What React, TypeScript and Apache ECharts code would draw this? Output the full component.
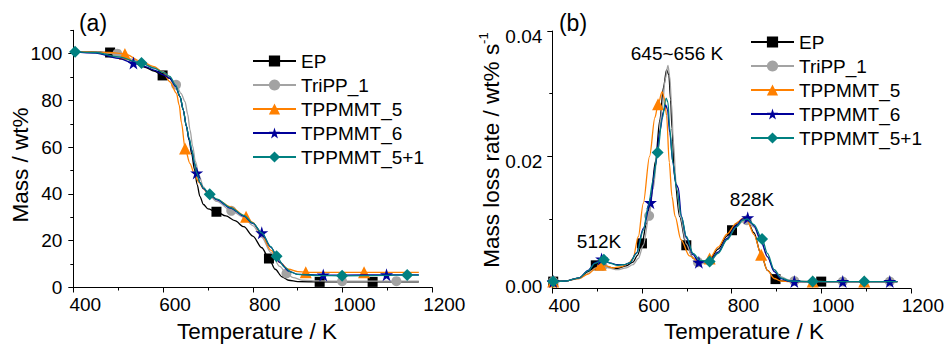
import React, { useEffect, useRef } from "react";
import * as echarts from "echarts";

// ---------- data ----------
const seriesNames = ["EP", "TriPP_1", "TPPMMT_5", "TPPMMT_6", "TPPMMT_5+1"];
const seriesColors = ["#000000", "#a3a3a3", "#ff8000", "#000099", "#008080"];

// (a) TGA: [Temperature K, Mass wt%]
const tgaEP: [number, number][] = [
  [400, 100.8], [440, 100.8], [482, 100.5], [520, 97.6], [560, 94.2], [580, 92.6], [599, 90.7],
  [615, 89.5], [628, 86], [638, 81.5], [645, 76], [652, 69], [658, 63], [664, 57], [670, 50.5],
  [676, 44], [682, 39], [690, 35.5], [700, 33.6], [719, 32.4], [740, 30.6], [760, 28.6],
  [780, 26], [800, 22], [820, 17], [836, 12.4], [850, 7.8], [865, 4.6], [880, 3.1], [900, 2.5],
  [949, 2.4], [1067, 2.4], [1170, 2.4],
];
const tgaEPMarks = [482, 599, 719, 836, 949, 1067];

const tgaTriPP: [number, number][] = [
  [400, 100.8], [450, 100.6], [498, 100], [530, 97.7], [560, 95.4], [580, 94], [600, 92.3],
  [615, 90], [629, 86.7], [640, 83], [649, 79.5], [655, 74], [660, 67.5], [666, 60.5], [672, 54],
  [680, 48], [690, 43], [700, 40], [720, 36.8], [752, 32.8], [780, 30], [800, 26.5], [820, 21.5],
  [840, 15], [860, 9], [875, 6], [890, 4.2], [910, 3.1], [950, 2.8], [999, 2.7], [1120, 2.7],
  [1170, 2.7],
];
const tgaTriPPMarks = [498, 629, 752, 875, 999, 1120];

const tgaT5: [number, number][] = [
  [400, 100.8], [450, 100.7], [480, 100.5], [515, 99.9], [550, 96.8], [580, 94.5], [600, 92],
  [615, 88], [630, 83], [636, 78], [641, 70.5], [649, 59.5], [660, 53], [670, 48.5], [680, 45],
  [690, 42.2], [700, 40.3], [720, 37.7], [750, 34.5], [785, 30.3], [800, 27.8], [820, 22.5],
  [840, 16], [860, 10.7], [880, 7.8], [900, 6.8], [918, 6.5], [1048, 6.5], [1170, 6.5],
];
const tgaT5Marks = [515, 649, 785, 918, 1048];

const tgaT6: [number, number][] = [
  [400, 100.8], [450, 100.3], [500, 98], [534, 96], [560, 94.5], [580, 93], [600, 91],
  [615, 89.5], [628, 86], [638, 81.5], [645, 76], [652, 69], [658, 63.5], [664, 58.5], [670, 53],
  [675, 49], [682, 45], [690, 42.3], [704, 39.6], [720, 37.5], [750, 34], [780, 30.5],
  [800, 27.4], [820, 23.4], [840, 17.3], [860, 10.8], [880, 7], [900, 5.6], [957, 5.3],
  [1000, 5.3], [1098, 5.4], [1170, 5.4],
];
const tgaT6Marks = [534, 675, 820, 957, 1098];

const tgaT51: [number, number][] = [
  [404, 100.8], [450, 100.5], [500, 98.6], [552, 96], [580, 93.8], [600, 92], [615, 90.3],
  [628, 86.5], [638, 81.7], [645, 76], [652, 69], [658, 64], [664, 59], [670, 53.5], [675, 49],
  [682, 45], [690, 42.5], [704, 39.9], [720, 37.8], [750, 34.2], [780, 30.8], [800, 27.6],
  [820, 23.4], [840, 17.5], [853, 13.4], [870, 8.8], [885, 6.6], [900, 5.6], [950, 5.1],
  [999, 5.0], [1100, 5.2], [1144, 5.3], [1170, 5.3],
];
const tgaT51Marks = [404, 552, 704, 853, 999, 1144];

// (b) DTG: [Temperature K, mass loss rate wt% s^-1]
const dtgEP: [number, number][] = [
  [402, 0], [430, 0.0001], [460, 0.0006], [480, 0.0016], [497, 0.0026], [510, 0.0028],
  [525, 0.0023], [545, 0.0021], [565, 0.0025], [580, 0.0031], [590, 0.0042], [600, 0.0061],
  [610, 0.0092], [620, 0.0135], [630, 0.0192], [640, 0.0258], [648, 0.031], [655, 0.0338],
  [660, 0.033], [664, 0.029], [667, 0.0245], [673, 0.0165], [684, 0.0104], [699, 0.0058],
  [715, 0.0037], [730, 0.0031], [750, 0.0034], [770, 0.0052], [790, 0.0073], [801, 0.0082],
  [815, 0.0095], [825, 0.01], [835, 0.0097], [850, 0.0078], [865, 0.0045], [880, 0.0018],
  [898, 0.0004], [915, 0.0001], [940, 0], [1000, 0], [1100, 0], [1170, 0],
];
const dtgEPMarks = [402, 497, 600, 699, 801, 898, 1000];

const dtgTriPP: [number, number][] = [
  [402, 0], [430, 0.0001], [460, 0.0005], [480, 0.0013], [497, 0.0022], [512, 0.0025],
  [525, 0.0022], [545, 0.0019], [565, 0.0022], [580, 0.0027], [592, 0.0037], [603, 0.0058],
  [616, 0.0105], [625, 0.0148], [635, 0.0208], [645, 0.0275], [652, 0.0323], [658, 0.0345],
  [662, 0.0328], [666, 0.0285], [670, 0.0225], [676, 0.016], [686, 0.0103], [699, 0.006],
  [712, 0.004], [725, 0.0031], [740, 0.0029], [755, 0.0033], [770, 0.0047], [790, 0.0068],
  [810, 0.0087], [825, 0.0096], [834, 0.0098], [850, 0.0087], [865, 0.0066], [880, 0.0039],
  [895, 0.0019], [910, 0.0008], [925, 0.0003], [940, 0.0001], [1048, 0], [1153, 0], [1170, 0],
];
const dtgTriPPMarks = [402, 512, 616, 725, 834, 940, 1048, 1153];

const dtgT5: [number, number][] = [
  [402, 0], [430, 0.0001], [460, 0.0005], [480, 0.0012], [495, 0.002], [508, 0.0027],
  [520, 0.0025], [535, 0.0022], [555, 0.0024], [570, 0.0029], [580, 0.0037], [592, 0.0072],
  [603, 0.0125], [617, 0.02], [629, 0.0262], [636, 0.0283], [645, 0.0303], [650, 0.0293],
  [655, 0.0265], [661, 0.019], [667, 0.0136], [674, 0.0104], [687, 0.0067], [706, 0.0041],
  [725, 0.0033], [740, 0.0033], [751, 0.0037], [770, 0.0055], [790, 0.0076], [810, 0.0093],
  [825, 0.0101], [835, 0.0097], [850, 0.0075], [866, 0.0043], [880, 0.0018], [895, 0.0005],
  [910, 0.0001], [930, 0], [981, 0], [1096, 0], [1170, 0],
];
const dtgT5Marks = [402, 508, 636, 751, 866, 981, 1096];

const dtgT6: [number, number][] = [
  [402, 0], [430, 0.0001], [460, 0.0006], [480, 0.0018], [495, 0.003], [510, 0.0036],
  [528, 0.003], [545, 0.0027], [560, 0.0027], [573, 0.003], [588, 0.0046], [603, 0.0085],
  [619, 0.0126], [630, 0.0185], [640, 0.024], [648, 0.0272], [653, 0.0282], [657, 0.0275],
  [662, 0.0238], [669, 0.019], [676, 0.0155], [681, 0.015], [688, 0.0104], [699, 0.007],
  [714, 0.0043], [727, 0.0031], [750, 0.0032], [770, 0.0047], [790, 0.0069], [810, 0.0089],
  [825, 0.01], [836, 0.0102], [850, 0.0089], [865, 0.0066], [880, 0.004], [895, 0.0016],
  [910, 0.0005], [925, 0.0001], [940, 0], [1048, 0], [1153, 0], [1170, 0],
];
const dtgT6Marks = [402, 510, 619, 727, 836, 940, 1048, 1153];

const dtgT51: [number, number][] = [
  [402, 0], [430, 0.0001], [460, 0.0006], [480, 0.0017], [495, 0.0029], [515, 0.0035],
  [530, 0.0029], [545, 0.0026], [560, 0.0027], [573, 0.003], [588, 0.0045], [603, 0.0082],
  [614, 0.012], [625, 0.0162], [635, 0.0206], [645, 0.026], [654, 0.0293], [658, 0.0286],
  [662, 0.0245], [669, 0.019], [678, 0.0146], [688, 0.0104], [699, 0.0072], [714, 0.0045],
  [730, 0.0034], [751, 0.0032], [770, 0.0045], [790, 0.0067], [810, 0.0087], [825, 0.0098],
  [835, 0.01], [850, 0.0091], [868, 0.0068], [880, 0.0045], [895, 0.0019], [910, 0.0006],
  [930, 0.0001], [981, 0], [1096, 0], [1170, 0],
];
const dtgT51Marks = [402, 515, 635, 751, 868, 981, 1096];

const xTicks = [400, 600, 800, 1000, 1200];
const massTickLabels = [0, 20, 40, 60, 80, 100];
const massMinorTicks = [10, 30, 50, 70, 90, 110];
const rateTickLabels = [0, 0.02, 0.04];
const rateMinorTicks = [0.01, 0.03];

// ---------- styles ----------
const FONT = "Liberation Sans, Arial, sans-serif";
const STAR =
  "path://M50,0 L61.2,34.5 L97.6,34.5 L68.2,55.9 L79.4,90.5 L50,69.1 L20.6,90.5 L31.8,55.9 L2.4,34.5 L38.8,34.5 Z";
const symbols = ["rect", "circle", "triangle", STAR, "diamond"];
const symbolSizes = [10, 10, 12, 13, 12];

function makeSeries(
  idx: number,
  data: [number, number][],
  marks: number[],
  axis: number
) {
  const color = seriesColors[idx];
  return {
    type: "line",
    name: seriesNames[idx],
    xAxisIndex: axis,
    yAxisIndex: axis * 2,
    data,
    smooth: 0.3,
    smoothMonotone: "x",
    symbol: symbols[idx],
    showSymbol: true,
    showAllSymbol: true,
    symbolSize: (v: number[]) => (marks.includes(v[0]) ? symbolSizes[idx] : 0),
    lineStyle: { color, width: 1.3 },
    itemStyle: { color, borderWidth: 0 },
    emphasis: { disabled: true },
    silent: true,
    z: 2 + idx,
  };
}

const axisLineStyle = { color: "#000", width: 1 };
const labelStyle = { fontSize: 19, color: "#000", fontFamily: FONT };

function xAxisFor(grid: number) {
  return {
    type: "value",
    gridIndex: grid,
    min: 400,
    max: 1200,
    interval: 200,
    axisLine: { show: true, onZero: false, lineStyle: axisLineStyle },
    axisTick: { show: true, inside: false, length: 5, lineStyle: axisLineStyle, customValues: xTicks },
    minorTick: { show: true, splitNumber: 2, length: 3, lineStyle: axisLineStyle },
    splitLine: { show: false },
    minorSplitLine: { show: false },
    axisLabel: {
      ...labelStyle,
      margin: 7,
      customValues: xTicks,
      formatter: (v: number) => `{p| }{v|${String(v)}}`,
      rich: {
        p: { width: 24, fontSize: 19, fontFamily: FONT },
        v: { fontSize: 19, fontFamily: FONT, color: "#000" },
      },
    },
  };
}

export default function App() {
  const ref = useRef<HTMLDivElement>(null);
  useEffect(() => {
    if (!ref.current) return;
    const chart = echarts.init(ref.current, undefined, { renderer: "svg" });
    const legendBase = {
      orient: "vertical",
      padding: 0,
      itemWidth: 43,
      itemHeight: 14,
      itemGap: 4,
      selectedMode: false,
      data: seriesNames,
      textStyle: { fontSize: 19, color: "#000", fontFamily: FONT, lineHeight: 20 },
    };
    chart.setOption({
      animation: false,
      backgroundColor: "#ffffff",
      grid: [
        { left: 73.3, top: 30.3, width: 359, height: 257.2 },
        { left: 552.3, top: 31, width: 359, height: 257.5 },
      ],
      xAxis: [xAxisFor(0), xAxisFor(1)],
      yAxis: [
        {
          type: "value",
          gridIndex: 0,
          position: "left",
          min: 0,
          max: 110,
          axisLine: { show: true, onZero: false, lineStyle: axisLineStyle },
          axisTick: { show: true, length: 5, lineStyle: axisLineStyle, customValues: massTickLabels },
          axisLabel: { ...labelStyle, margin: 11, customValues: massTickLabels },
          splitLine: { show: false },
        },
        {
          type: "value",
          gridIndex: 0,
          position: "left",
          min: 0,
          max: 110,
          axisLine: { show: false, onZero: false },
          axisTick: { show: true, length: 3, lineStyle: axisLineStyle, customValues: massMinorTicks },
          axisLabel: { show: false },
          splitLine: { show: false },
        },
        {
          type: "value",
          gridIndex: 1,
          position: "left",
          min: -0.0011,
          max: 0.04,
          axisLine: { show: true, onZero: false, lineStyle: axisLineStyle },
          axisTick: { show: true, length: 5, lineStyle: axisLineStyle, customValues: rateTickLabels },
          axisLabel: {
            ...labelStyle,
            margin: 10,
            verticalAlign: "top",
            lineHeight: 10,
            customValues: rateTickLabels,
            formatter: (v: number) => v.toFixed(2),
          },
          splitLine: { show: false },
        },
        {
          type: "value",
          gridIndex: 1,
          position: "left",
          min: -0.0011,
          max: 0.04,
          axisLine: { show: false, onZero: false },
          axisTick: { show: true, length: 3, lineStyle: axisLineStyle, customValues: rateMinorTicks },
          axisLabel: { show: false },
          splitLine: { show: false },
        },
      ],
      legend: [
        { ...legendBase, left: 252, top: 51 },
        { ...legendBase, left: 750, top: 32 },
      ],
      series: [
        makeSeries(0, tgaEP, tgaEPMarks, 0),
        makeSeries(1, tgaTriPP, tgaTriPPMarks, 0),
        makeSeries(2, tgaT5, tgaT5Marks, 0),
        makeSeries(3, tgaT6, tgaT6Marks, 0),
        makeSeries(4, tgaT51, tgaT51Marks, 0),
        makeSeries(0, dtgEP, dtgEPMarks, 1),
        makeSeries(1, dtgTriPP, dtgTriPPMarks, 1),
        makeSeries(2, dtgT5, dtgT5Marks, 1),
        makeSeries(3, dtgT6, dtgT6Marks, 1),
        makeSeries(4, dtgT51, dtgT51Marks, 1),
      ],
      graphic: [
        { type: "text", x: 93, y: 23, style: { text: "(a)", fontSize: 23, fontFamily: FONT, fill: "#000", align: "center", verticalAlign: "middle" } },
        { type: "text", x: 573, y: 23, style: { text: "(b)", fontSize: 23, fontFamily: FONT, fill: "#000", align: "center", verticalAlign: "middle" } },
        { type: "text", x: 677, y: 53, style: { text: "645~656 K", fontSize: 19, fontFamily: FONT, fill: "#000", align: "center", verticalAlign: "middle" } },
        { type: "text", x: 599, y: 241, style: { text: "512K", fontSize: 19, fontFamily: FONT, fill: "#000", align: "center", verticalAlign: "middle" } },
        { type: "text", x: 752, y: 199, style: { text: "828K", fontSize: 19, fontFamily: FONT, fill: "#000", align: "center", verticalAlign: "middle" } },
        { type: "text", x: 257, y: 331, style: { text: "Temperature / K", fontSize: 22.5, fontFamily: FONT, fill: "#000", align: "center", verticalAlign: "middle" } },
        { type: "text", x: 744, y: 331, style: { text: "Temperature / K", fontSize: 22.5, fontFamily: FONT, fill: "#000", align: "center", verticalAlign: "middle" } },
        { type: "text", x: 20, y: 165, rotation: Math.PI / 2, style: { text: "Mass / wt%", fontSize: 22.5, fontFamily: FONT, fill: "#000", align: "center", verticalAlign: "middle" } },
        {
          type: "text",
          x: 490,
          y: 150,
          rotation: Math.PI / 2,
          style: {
            text: "{m|Mass loss rate / wt% s}{s|-1}",
            align: "center",
            verticalAlign: "middle",
            rich: {
              m: { fontSize: 22.5, fontFamily: FONT, fill: "#000", lineHeight: 26, verticalAlign: "bottom" },
              s: { fontSize: 13, fontFamily: FONT, fill: "#000", lineHeight: 14, verticalAlign: "top" },
            },
          },
        },
      ],
    });
    return () => chart.dispose();
  }, []);
  return (
    <div
      ref={ref}
      style={{ position: "fixed", left: 0, top: 0, width: 947, height: 345, background: "#fff" }}
    />
  );
}
